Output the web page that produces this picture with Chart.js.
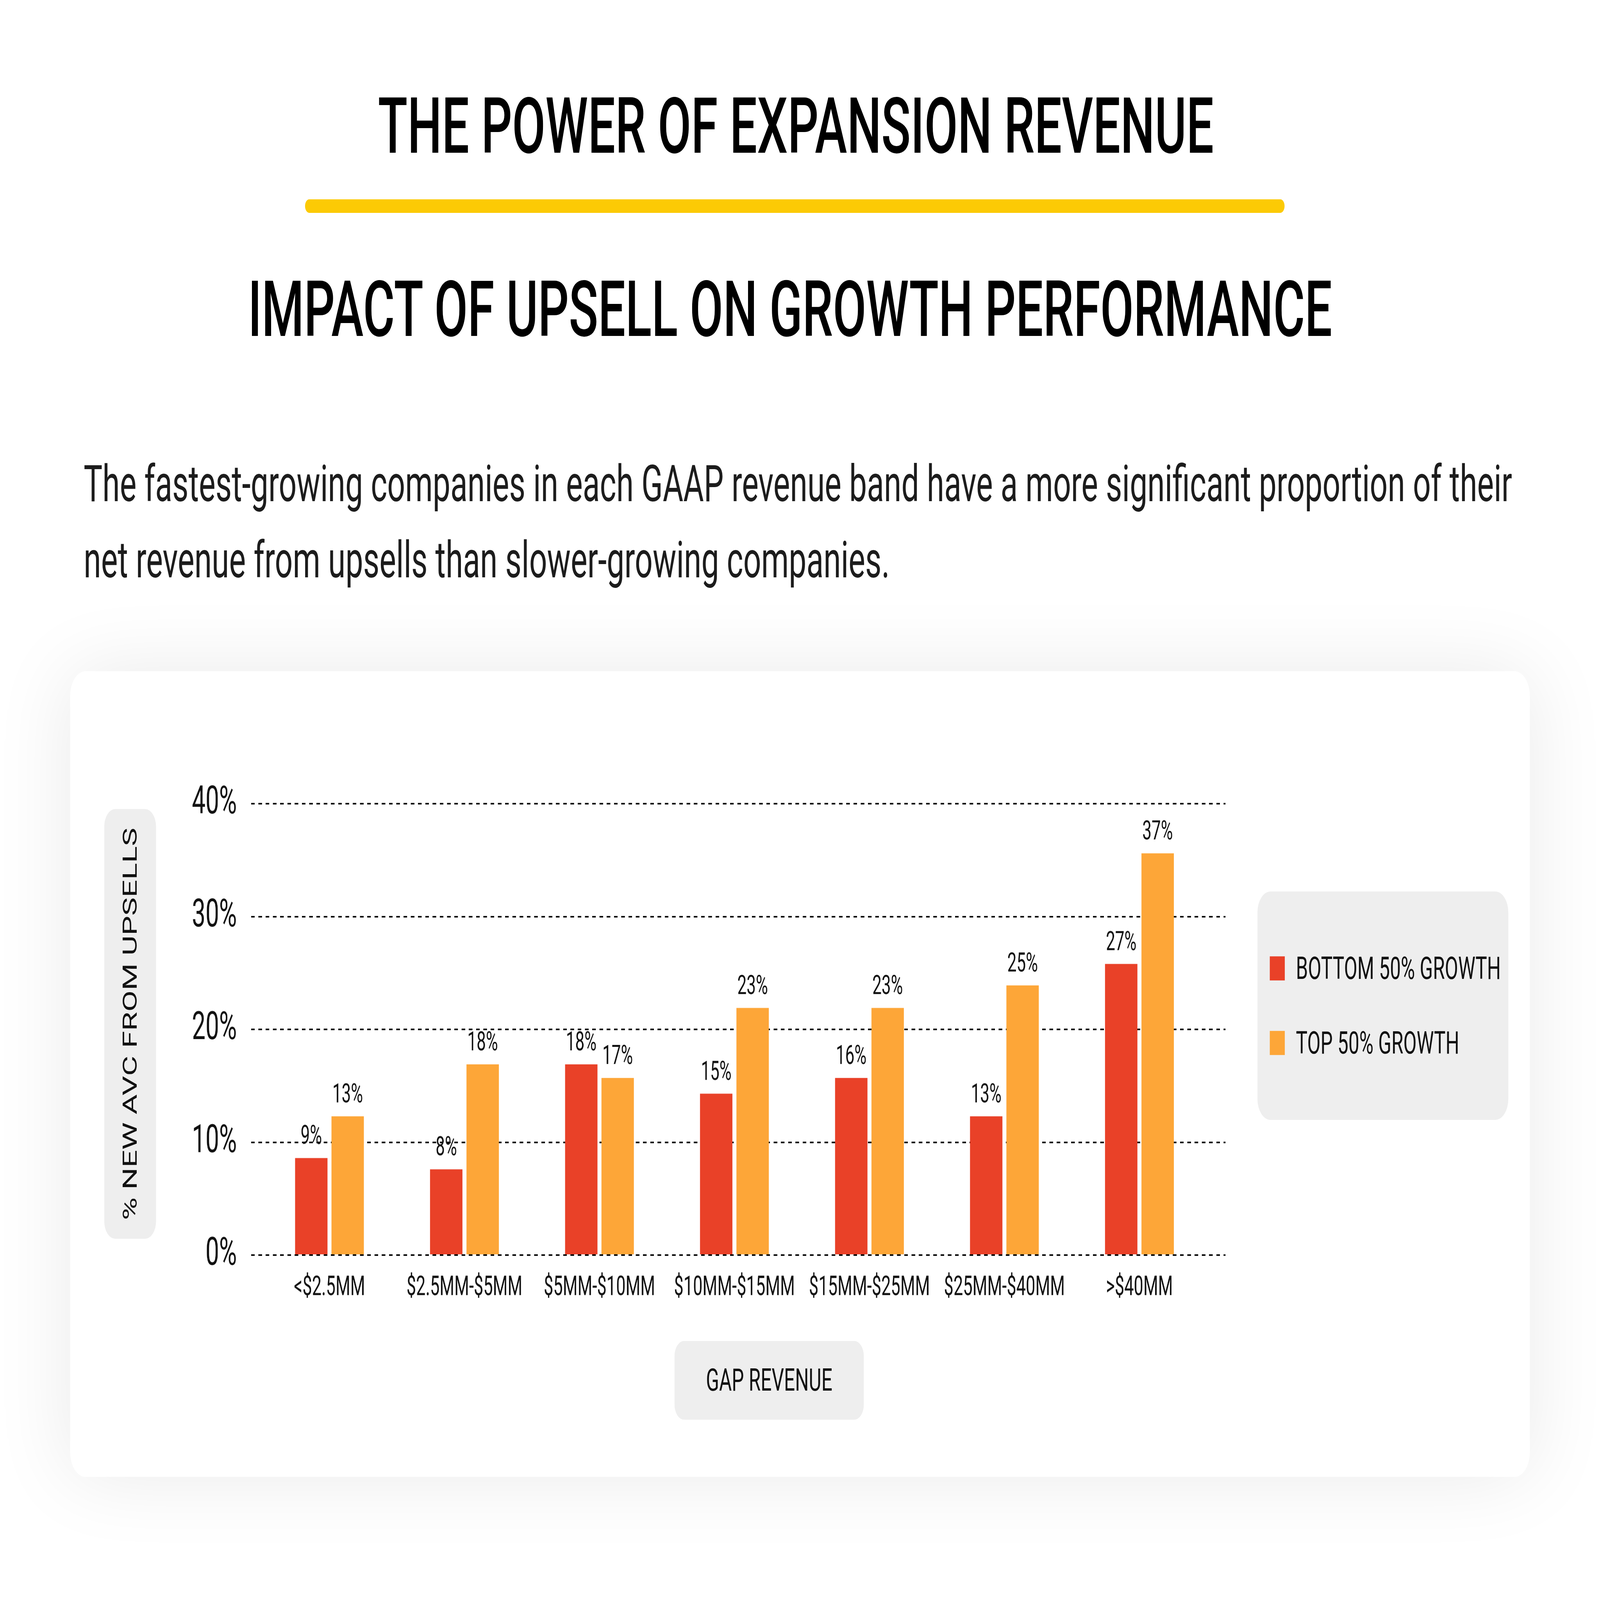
<!DOCTYPE html>
<html>
<head>
<meta charset="utf-8">
<script src="https://cdn.jsdelivr.net/npm/chart.js@4.4.1/dist/chart.umd.min.js"></script>
<style>
  html, body { margin: 0; padding: 0; background: #fff; overflow: hidden; }
  #page { position: absolute; left: 0; top: 0; width: 6614px; height: 4119px; transform-origin: 0 0; font-family: Roboto, 'Noto Sans', sans-serif; color: #111; }
  .title { position: absolute; width: 6000px; text-align: center; font-size: 200px; line-height: 200px; font-weight: 500; color: #000; white-space: nowrap; }
  .rule { position: absolute; left: 1261px; top: 513px; width: 4049px; height: 35px; border-radius: 18px; background: #fcca05; }
  .lead { position: absolute; left: 346px; top: 1148px; font-size: 130px; line-height: 196px; color: #1c1c1c; white-space: nowrap; }
  .card { position: absolute; left: 290px; top: 1728px; width: 6034px; height: 2074px; border-radius: 64px; background: #fff; box-shadow: 0 0 260px rgba(0, 0, 0, 0.085); }
  .pill { position: absolute; background: #eeeeee; }
  .ytitle { left: 431px; top: 2083px; width: 214px; height: 1106px; border-radius: 45px; }
  .ytitle span { position: absolute; left: 50%; top: 50%; transform: translate(-50%, -50%) rotate(-90deg); font-size: 80px; white-space: nowrap; }
  .xtitle { left: 2788px; top: 3452px; width: 783px; height: 203px; border-radius: 40px; font-size: 80px; line-height: 203px; text-align: center; }
  .legend { left: 5198px; top: 2295px; width: 1037px; height: 588px; border-radius: 54px; }
  .legend .item { position: absolute; left: 51px; height: 62px; display: flex; align-items: center; font-size: 80px; white-space: nowrap; }
  .legend .swatch { width: 62px; height: 62px; margin-right: 46px; }
  #wrap { position: absolute; left: 700px; top: 1950px; width: 4450px; height: 1450px; }
</style>
</head>
<body>
<div id="page">
  <div class="title" style="left:290px; top:225px;">THE POWER OF EXPANSION REVENUE</div>
  <div class="rule"></div>
  <div class="title" style="left:266px; top:697px;">IMPACT OF UPSELL ON GROWTH PERFORMANCE</div>
  <div class="lead">The fastest-growing companies in each GAAP revenue band have a more significant proportion of their<br>net revenue from upsells than slower-growing companies.</div>

  <div class="card"></div>
  <div class="pill ytitle"><span>% NEW AVC FROM UPSELLS</span></div>
  <div class="pill xtitle">GAP REVENUE</div>
  <div class="pill legend" id="legend"></div>
  <div id="wrap"><canvas id="chart" width="4450" height="1450"></canvas></div>
</div>

<script>
// revenue bands along the x axis
const categories = ['<$2.5MM', '$2.5MM-$5MM', '$5MM-$10MM', '$10MM-$15MM', '$15MM-$25MM', '$25MM-$40MM', '>$40MM'];
const seriesNames = ['BOTTOM 50% GROWTH', 'TOP 50% GROWTH'];

// bar heights as drawn (% new AVC from upsells)
const bottomGrowth = [8.6, 7.6, 16.9, 14.3, 15.7, 12.3, 25.8];
const topGrowth = [12.3, 16.9, 15.7, 21.9, 21.9, 23.9, 35.6];

// the rounded figures printed above each bar
const bottomLabels = ['9%', '8%', '18%', '15%', '16%', '13%', '27%'];
const topLabels = ['13%', '18%', '17%', '23%', '23%', '25%', '37%'];

const yTicks = [0, 10, 20, 30, 40];

const colors = ['#e94128', '#fda638'];

// the layout is drawn on a 6614x4119 sheet; fit it to whatever window we get
const page = document.getElementById('page');
const fitPage = () => {
  const sx = window.innerWidth / 6614;
  const sy = window.innerHeight / 4119;
  page.style.transform = `scale(${sx}, ${sy})`;
};
fitPage();

// legend in its grey box
const legendEl = document.getElementById('legend');
seriesNames.forEach((name, i) => {
  const item = document.createElement('div');
  item.className = 'item';
  item.style.top = (167 + i * 192) + 'px';
  item.innerHTML = `<div class="swatch" style="background:${colors[i]}"></div><span>${name}</span>`;
  legendEl.appendChild(item);
});

// value labels over the bars
const barLabels = {
  id: 'barLabels',
  afterDatasetsDraw(chart) {
    const { ctx } = chart;
    const texts = [bottomLabels, topLabels];
    ctx.save();
    ctx.font = '68px Roboto';
    ctx.fillStyle = '#111';
    ctx.textAlign = 'center';
    ctx.textBaseline = 'alphabetic';
    chart.data.datasets.forEach((ds, di) => {
      chart.getDatasetMeta(di).data.forEach((bar, i) => {
        ctx.fillText(texts[di][i], bar.x, bar.y - 36);
      });
    });
    ctx.restore();
  }
};

Chart.defaults.font.family = 'Roboto';
Chart.defaults.color = '#111';

new Chart(document.getElementById('chart'), {
  type: 'bar',
  data: {
    datasets: [bottomGrowth, topGrowth].map((values, di) => ({
      label: seriesNames[di],
      data: values.map((v, i) => ({ x: i, y: v })),
      backgroundColor: colors[di],
      borderWidth: 0,
      categoryPercentage: 0.5394,
      barPercentage: 0.89
    }))
  },
  options: {
    responsive: false,
    animation: false,
    devicePixelRatio: 1,
    layout: { padding: { top: 112, right: 84, bottom: 19, left: 0 } },
    plugins: {
      legend: { display: false },
      tooltip: { enabled: false }
    },
    scales: {
      x: {
        type: 'linear',
        offset: false,
        min: -0.5806,
        max: 6.638,
        afterBuildTicks: (scale) => { scale.ticks = categories.map((c, i) => ({ value: i })); },
        afterFit: (scale) => { scale.height = 150; },
        grid: { display: false, drawTicks: false, offset: false },
        border: { display: false },
        ticks: {
          autoSkip: false,
          maxRotation: 0,
          padding: 43,
          font: { size: 70 },
          callback: (v) => categories[v]
        }
      },
      y: {
        min: 0,
        max: 40,
        afterBuildTicks: (scale) => { scale.ticks = yTicks.map((v) => ({ value: v })); },
        afterFit: (scale) => { scale.width = 338; },
        grid: { color: '#000', lineWidth: 4, drawTicks: false },
        border: { display: false, dash: [15, 15] },
        ticks: {
          padding: 59,
          font: { size: 100 },
          callback: (v) => v + '%'
        }
      }
    }
  },
  plugins: [barLabels]
});
</script>
</body>
</html>
